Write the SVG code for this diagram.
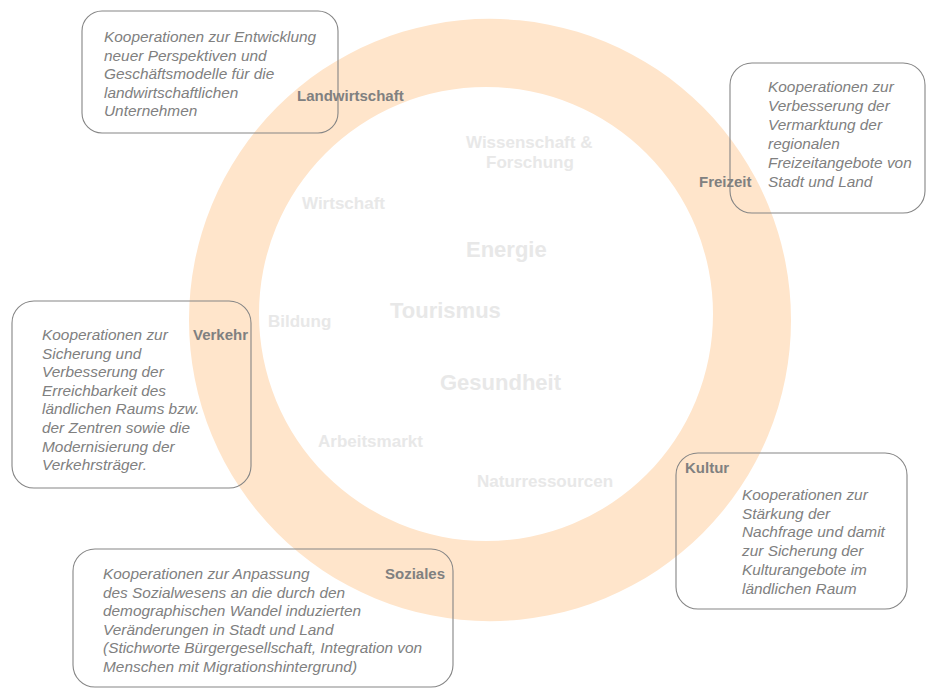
<svg xmlns="http://www.w3.org/2000/svg" width="926" height="688" viewBox="0 0 926 688">
<style>
.ring{fill:#FFE5CB;fill-rule:evenodd;stroke:none}
.inner{font-family:"Liberation Sans",Arial,sans-serif;font-weight:bold;fill:#E8E8E8;text-anchor:start}
.box{fill:none;stroke:#858585;stroke-width:1.1}
.desc{font-family:"Liberation Sans",Arial,sans-serif;font-style:italic;font-size:15.4px;fill:#808080}
.lab{font-family:"Liberation Sans",Arial,sans-serif;font-weight:bold;font-size:15px;fill:#808080}
</style>
<rect width="926" height="688" fill="#FFFFFF"/>
<g id="ring">
<path class="ring" d="M189,320 A301,301 0 1,0 791,320 A301,301 0 1,0 189,320 Z M259,314 A227,227 0 1,0 713,314 A227,227 0 1,0 259,314 Z"/>
</g>
<g id="themes">
<text class="inner" x="466" y="148" font-size="17">Wissenschaft &amp;</text>
<text class="inner" x="486" y="168" font-size="17">Forschung</text>
<text class="inner" x="302" y="209" font-size="17">Wirtschaft</text>
<text class="inner" x="466" y="257" font-size="22">Energie</text>
<text class="inner" x="268" y="327" font-size="17">Bildung</text>
<text class="inner" x="390" y="318" font-size="22">Tourismus</text>
<text class="inner" x="440" y="390" font-size="22">Gesundheit</text>
<text class="inner" x="318" y="447" font-size="17">Arbeitsmarkt</text>
<text class="inner" x="477" y="487" font-size="17">Naturressourcen</text>
</g>
<g id="landwirtschaft">
<rect class="box" x="82" y="11" width="256" height="122" rx="20"/>
<text class="desc"><tspan x="104" y="42">Kooperationen zur Entwicklung</tspan><tspan x="104" y="60.5">neuer Perspektiven und</tspan><tspan x="104" y="79">Geschäftsmodelle für die</tspan><tspan x="104" y="97.5">landwirtschaftlichen</tspan><tspan x="104" y="116">Unternehmen</tspan></text>
<text class="lab" x="297" y="101">Landwirtschaft</text>
</g>
<g id="freizeit">
<rect class="box" x="730" y="63" width="195" height="150" rx="22"/>
<text class="desc"><tspan x="768" y="92">Kooperationen zur</tspan><tspan x="768" y="111">Verbesserung der</tspan><tspan x="768" y="130">Vermarktung der</tspan><tspan x="768" y="149">regionalen</tspan><tspan x="768" y="168">Freizeitangebote von</tspan><tspan x="768" y="187">Stadt und Land</tspan></text>
<text class="lab" x="699" y="187">Freizeit</text>
</g>
<g id="verkehr">
<rect class="box" x="12" y="301" width="239" height="187" rx="22"/>
<text class="desc"><tspan x="42" y="340">Kooperationen zur</tspan><tspan x="42" y="358.6">Sicherung und</tspan><tspan x="42" y="377.2">Verbesserung der</tspan><tspan x="42" y="395.8">Erreichbarkeit des</tspan><tspan x="42" y="414.4">ländlichen Raums bzw.</tspan><tspan x="42" y="433">der Zentren sowie die</tspan><tspan x="42" y="451.6">Modernisierung der</tspan><tspan x="42" y="470.2">Verkehrsträger.</tspan></text>
<text class="lab" x="193" y="340">Verkehr</text>
</g>
<g id="kultur">
<rect class="box" x="676" y="453" width="231" height="156" rx="22"/>
<text class="lab" x="685" y="473">Kultur</text>
<text class="desc"><tspan x="742" y="500">Kooperationen zur</tspan><tspan x="742" y="518.7">Stärkung der</tspan><tspan x="742" y="537.4">Nachfrage und damit</tspan><tspan x="742" y="556.1">zur Sicherung der</tspan><tspan x="742" y="574.8">Kulturangebote im</tspan><tspan x="742" y="593.5">ländlichen Raum</tspan></text>
</g>
<g id="soziales">
<rect class="box" x="73" y="549" width="380" height="138" rx="22"/>
<text class="desc"><tspan x="103" y="579">Kooperationen zur Anpassung</tspan><tspan x="103" y="597.5">des Sozialwesens an die durch den</tspan><tspan x="103" y="616">demographischen Wandel induzierten</tspan><tspan x="103" y="634.5">Veränderungen in Stadt und Land</tspan><tspan x="103" y="653">(Stichworte Bürgergesellschaft, Integration von</tspan><tspan x="103" y="671.5">Menschen mit Migrationshintergrund)</tspan></text>
<text class="lab" x="385" y="579">Soziales</text>
</g>
</svg>
